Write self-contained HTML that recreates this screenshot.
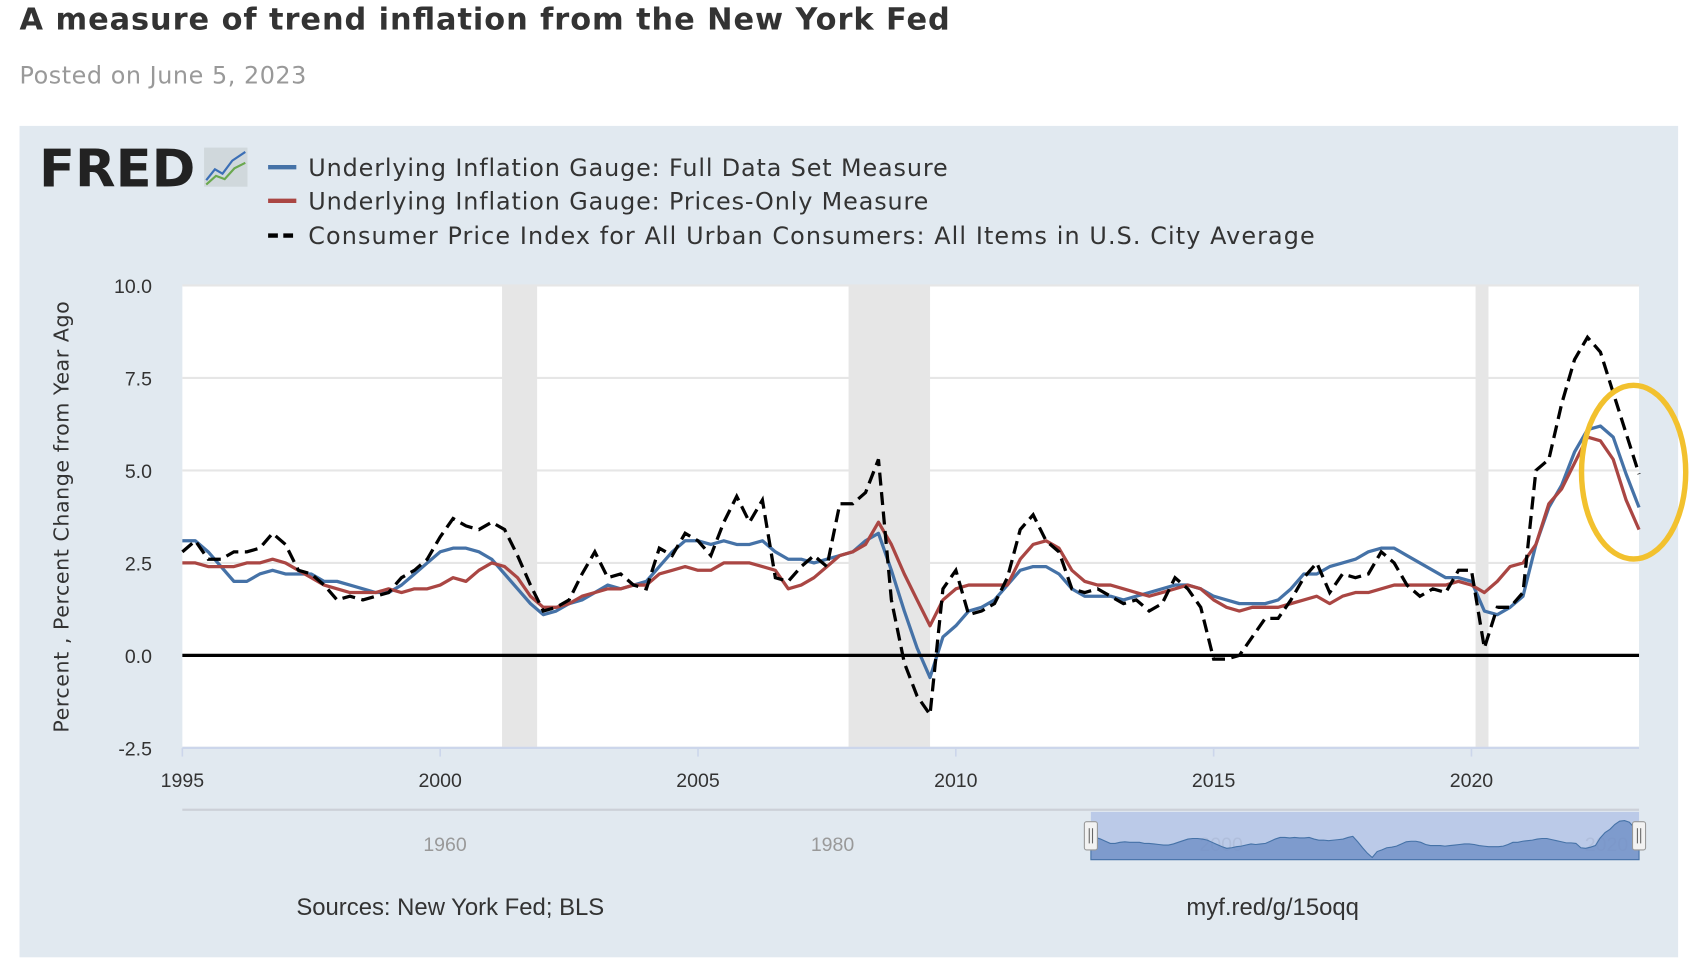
<!DOCTYPE html>
<html><head><meta charset="utf-8"><style>
html,body{margin:0;padding:0;width:1702px;height:958px;overflow:hidden;background:#fff;}
#wrap{width:1568px;height:882px;transform:scale(1.08546);transform-origin:0 0;position:relative;font-family:"Liberation Sans",sans-serif;}
</style></head><body>
<div id="wrap">
<svg id="chart" width="1568" height="882" viewBox="0 0 1568 882" xmlns="http://www.w3.org/2000/svg" font-family="Liberation Sans, sans-serif">
<text x="18" y="27" font-size="28" font-weight="bold" fill="#333" font-family="DejaVu Sans, sans-serif" textLength="857">A measure of trend inflation from the New York Fed</text>
<text x="18" y="77" font-size="22" fill="#999" font-family="DejaVu Sans, sans-serif" letter-spacing="0.5">Posted on June 5, 2023</text>
<rect x="18" y="116" width="1528" height="766" fill="#e1e9f0"/>
<g>
<text x="36" y="172" font-size="48" font-weight="bold" fill="#222" font-family="DejaVu Sans, sans-serif" textLength="144" lengthAdjust="spacingAndGlyphs">FRED</text>
<rect x="188" y="136" width="40" height="36" fill="#d0d8dc"/>
<polyline points="190,166 198,156 205,160 214,148 226,140" fill="none" stroke="#3b6fb6" stroke-width="2"/>
<polyline points="190,170 199,162 207,165 216,155 226,150" fill="none" stroke="#6aa84f" stroke-width="2"/>
</g>
<g font-size="22" fill="#333" font-family="DejaVu Sans, sans-serif" letter-spacing="0.8">
<line x1="247" y1="154" x2="273" y2="154" stroke="#4572a7" stroke-width="4"/>
<text x="284" y="162">Underlying Inflation Gauge: Full Data Set Measure</text>
<line x1="247" y1="185" x2="273" y2="185" stroke="#aa4643" stroke-width="4"/>
<text x="284" y="193">Underlying Inflation Gauge: Prices-Only Measure</text>
<line x1="247" y1="217" x2="273" y2="217" stroke="#000" stroke-width="4" stroke-dasharray="9,5"/>
<text x="284" y="225" textLength="928">Consumer Price Index for All Urban Consumers: All Items in U.S. City Average</text>
</g>
<rect x="168" y="263" width="1342" height="426" fill="#fff"/>
<g id="rec"></g><g id="grid"></g><g id="series"></g><g id="axes"></g>
<text transform="translate(63,476) rotate(-90)" text-anchor="middle" font-size="19" fill="#333" font-family="DejaVu Sans, sans-serif" letter-spacing="0.5">Percent , Percent Change from Year Ago</text>
<g id="nav"></g>
<ellipse cx="1505" cy="435" rx="48" ry="80" fill="none" stroke="#f2c12e" stroke-width="5"/>
<text x="273" y="843" font-size="22" fill="#333">Sources: New York Fed; BLS</text>
<text x="1093" y="843" font-size="22" fill="#333">myf.red/g/15oqq</text>
</svg>
</div>
<script>
const startYear = 1995;
const yTicks = [-2.5, 0, 2.5, 5, 7.5, 10];
const yTickLabels = ["-2.5","0.0","2.5","5.0","7.5","10.0"];
const xTicks = [1995, 2000, 2005, 2010, 2015, 2020];
const recessions = [[2001.2, 2001.88], [2007.92, 2009.5], [2020.08, 2020.33]];
const fullData = [3.1,3.1,2.8,2.4, 2.0,2.0,2.2,2.3, 2.2,2.2,2.2,2.0, 2.0,1.9,1.8,1.7, 1.7,1.9,2.2,2.5, 2.8,2.9,2.9,2.8, 2.6,2.2,1.8,1.4, 1.1,1.2,1.4,1.5, 1.7,1.9,1.8,1.9, 2.0,2.4,2.8,3.1, 3.1,3.0,3.1,3.0, 3.0,3.1,2.8,2.6, 2.6,2.5,2.6,2.7, 2.8,3.1,3.3,2.3, 1.2,0.2,-0.6,0.5, 0.8,1.2,1.3,1.5, 1.9,2.3,2.4,2.4, 2.2,1.8,1.6,1.6, 1.6,1.5,1.6,1.7, 1.8,1.9,1.9,1.8, 1.6,1.5,1.4,1.4, 1.4,1.5,1.8,2.2, 2.2,2.4,2.5,2.6, 2.8,2.9,2.9,2.7, 2.5,2.3,2.1,2.1, 2.0,1.2,1.1,1.3, 1.6,3.0,4.0,4.6, 5.5,6.1,6.2,5.9, 4.9,4.0];
const pricesOnly = [2.5,2.5,2.4,2.4, 2.4,2.5,2.5,2.6, 2.5,2.3,2.1,1.9, 1.8,1.7,1.7,1.7, 1.8,1.7,1.8,1.8, 1.9,2.1,2.0,2.3, 2.5,2.4,2.1,1.6, 1.3,1.3,1.4,1.6, 1.7,1.8,1.8,1.9, 1.9,2.2,2.3,2.4, 2.3,2.3,2.5,2.5, 2.5,2.4,2.3,1.8, 1.9,2.1,2.4,2.7, 2.8,3.0,3.6,3.0, 2.2,1.5,0.8,1.5, 1.8,1.9,1.9,1.9, 1.9,2.6,3.0,3.1, 2.9,2.3,2.0,1.9, 1.9,1.8,1.7,1.6, 1.7,1.8,1.9,1.8, 1.5,1.3,1.2,1.3, 1.3,1.3,1.4,1.5, 1.6,1.4,1.6,1.7, 1.7,1.8,1.9,1.9, 1.9,1.9,1.9,2.0, 1.9,1.7,2.0,2.4, 2.5,3.0,4.1,4.5, 5.2,5.9,5.8,5.3, 4.2,3.4];
const cpi = [2.8,3.1,2.6,2.6, 2.8,2.8,2.9,3.3, 3.0,2.3,2.2,1.9, 1.5,1.6,1.5,1.6, 1.7,2.1,2.3,2.6, 3.2,3.7,3.5,3.4, 3.6,3.4,2.7,1.9, 1.2,1.3,1.5,2.2, 2.8,2.1,2.2,1.9, 1.8,2.9,2.7,3.3, 3.1,2.7,3.6,4.3, 3.6,4.2,2.1,2.0, 2.4,2.7,2.4,4.1, 4.1,4.4,5.3,1.5, -0.2,-1.1,-1.6,1.8, 2.3,1.1,1.2,1.4, 2.1,3.4,3.8,3.1, 2.8,1.8,1.7,1.8, 1.6,1.4,1.5,1.2, 1.4,2.1,1.8,1.3, -0.1,-0.1,0.0,0.5, 1.0,1.0,1.5,2.1, 2.5,1.7,2.2,2.1, 2.2,2.8,2.5,1.9, 1.6,1.8,1.7,2.3, 2.3,0.2,1.3,1.3, 1.7,5.0,5.3,6.8, 8.0,8.6,8.2,7.1, 6.0,4.9];

const NS = "http://www.w3.org/2000/svg";
const X0 = 168, X1 = 1510, Y0 = 689, Y1 = 263;
const xS = yr => X0 + (yr - 1995) * (X1 - X0) / (2023.25 - 1995);
const yS = v => Y0 - (v + 2.5) * (Y0 - Y1) / 12.5;
function mk(tag, attrs, parent) { const e = document.createElementNS(NS, tag); for (const k in attrs) e.setAttribute(k, attrs[k]); parent.appendChild(e); return e; }

const rec = document.getElementById('rec');
recessions.forEach(r => {
  const e = mk('rect', {x: xS(r[0]), y: Y1, width: xS(r[1]) - xS(r[0]), height: Y0 - Y1, fill: '#e6e6e6'}, rec);
  
  
});
const grid = document.getElementById('grid');
const axes = document.getElementById('axes');
yTicks.forEach((t, i) => {
  if (t !== 0) {
    const g = mk('line', {x1: X0, x2: X1, y1: yS(t), y2: yS(t), stroke: '#e6e6e6', 'stroke-width': 2}, grid);
    
    
  }
  const l = mk('text', {x: 140, y: yS(t) + 7, 'text-anchor': 'end', 'font-size': 18, fill: '#333'}, axes);
  l.textContent = yTickLabels[i];
  
  
});
mk('line', {x1: X0, x2: X1, y1: Y0, y2: Y0, stroke: '#ccd6eb', 'stroke-width': 2}, axes);
xTicks.forEach(t => {
  mk('line', {x1: xS(t), x2: xS(t), y1: Y0, y2: Y0 + 8, stroke: '#ccd6eb', 'stroke-width': 1.5}, axes);
  const l = mk('text', {x: xS(t), y: 725, 'text-anchor': 'middle', 'font-size': 18, fill: '#333'}, axes);
  l.textContent = t;
  
  
});
const series = document.getElementById('series');
function path(arr) { return arr.map((v, i) => (i ? 'L' : 'M') + xS(startYear + i * 0.25).toFixed(1) + ',' + yS(v).toFixed(1)).join(''); }
const pf = mk('path', {d: path(fullData), fill: 'none', stroke: '#4572a7', 'stroke-width': 3, 'stroke-linejoin': 'round'}, series);


const pp = mk('path', {d: path(pricesOnly), fill: 'none', stroke: '#aa4643', 'stroke-width': 3, 'stroke-linejoin': 'round'}, series);


const pc = mk('path', {d: path(cpi), fill: 'none', stroke: '#000', 'stroke-width': 3, 'stroke-dasharray': '12,6'}, series);


const zl = mk('line', {x1: X0, x2: X1, y1: yS(0), y2: yS(0), stroke: '#000', 'stroke-width': 3}, series);



// navigator
const nav = document.getElementById('nav');
mk('line', {x1: X0, x2: X1, y1: 746, y2: 746, stroke: '#ccd0d8', 'stroke-width': 2}, nav);
[[1960, 410], [1980, 767], [2000, 1125], [2020, 1480]].forEach(p => {
  const t = mk('text', {x: p[1], y: 784, 'text-anchor': 'middle', 'font-size': 18, fill: '#999'}, nav);
  t.textContent = p[0];
  
  
});
const sel = mk('rect', {x: 1005, y: 748, width: 505, height: 44, fill: '#b4c4e6', 'fill-opacity': 0.85}, nav);


const nx = i => 1005 + i * 505 / (fullData.length - 1);
const ny = v => 792 - (v + 1) * 40 / 8;
const nd = 'M1005,792' + fullData.map((v, i) => 'L' + nx(i).toFixed(1) + ',' + ny(v).toFixed(1)).join('') + 'L1510,792Z';
const na = mk('path', {d: nd, fill: '#6f8fc6', 'fill-opacity': 0.8, stroke: '#4572a7', 'stroke-width': 1}, nav);


[1005, 1510].forEach(x => {
  const h = mk('rect', {x: x - 6, y: 757, width: 12, height: 26, fill: '#f2f2f2', stroke: '#999', 'stroke-width': 1, rx: 2}, nav);
  
  
  mk('line', {x1: x - 1.5, x2: x - 1.5, y1: 763, y2: 777, stroke: '#666'}, nav);
  mk('line', {x1: x + 1.5, x2: x + 1.5, y1: 763, y2: 777, stroke: '#666'}, nav);
});
</script>
</body></html>
